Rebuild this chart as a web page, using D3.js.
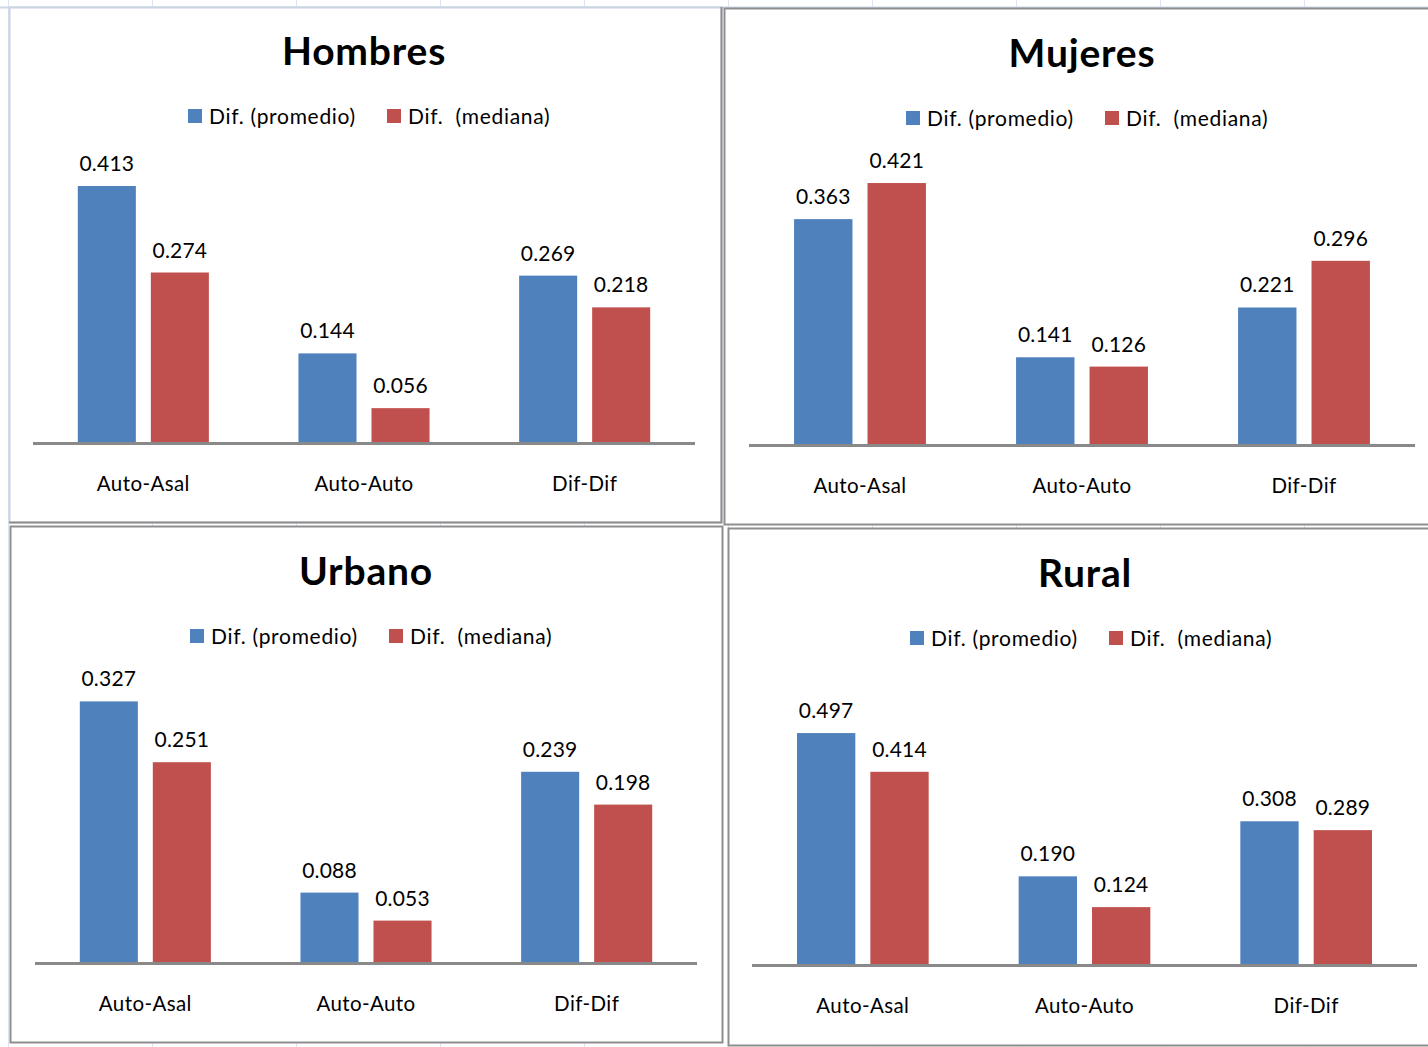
<!DOCTYPE html>
<html><head><meta charset="utf-8">
<script src="https://cdn.jsdelivr.net/npm/d3@7"></script>
<style>html,body{margin:0;padding:0;background:#fff;}svg{display:block;}</style>
</head><body>
<svg id="c" width="1428" height="1047"></svg>
<script>
const categories = ["Auto-Asal", "Auto-Auto", "Dif-Dif"];
const seriesNames = ["Dif. (promedio)", "Dif.\u00a0 (mediana)"];
const panelTitles = ["Hombres", "Mujeres", "Urbano", "Rural"];
const hombresPromedio = [0.413, 0.144, 0.269];
const hombresMediana  = [0.274, 0.056, 0.218];
const mujeresPromedio = [0.363, 0.141, 0.221];
const mujeresMediana  = [0.421, 0.126, 0.296];
const urbanoPromedio  = [0.327, 0.088, 0.239];
const urbanoMediana   = [0.251, 0.053, 0.198];
const ruralPromedio   = [0.497, 0.190, 0.308];
const ruralMediana    = [0.414, 0.124, 0.289];
const axisMax = [0.45, 0.45, 0.35, 0.6];

const colors = ["#4f81bd", "#c0504d"];
const FONT = "Lato, 'Noto Sans', sans-serif";

const layouts = [
  {fx:9, fy:7, fw:712, fh:515, l:33, r:695, base:443, tx:364, ty:65, lx:188, ly:124},
  {fx:724, fy:8, fw:712, fh:516, l:749, r:1415, base:445, tx:1082, ty:67, lx:906, ly:126},
  {fx:10, fy:526, fw:712, fh:516, l:35, r:697, base:963, tx:366, ty:585, lx:190, ly:644},
  {fx:728, fy:528, fw:706, fh:517, l:752, r:1417, base:965, tx:1085, ty:587, lx:910, ly:646}
];
const values = [
  [hombresPromedio, hombresMediana],
  [mujeresPromedio, mujeresMediana],
  [urbanoPromedio, urbanoMediana],
  [ruralPromedio, ruralMediana]
];

const svg = d3.select("#c");
const bg = svg.append("g");
for (let x = 8; x < 1428; x += 144) {
  bg.append("line").attr("x1", x + 0.5).attr("x2", x + 0.5).attr("y1", 0).attr("y2", 1047)
    .attr("stroke", "#dce4ee").attr("stroke-width", 1);
}
bg.append("line").attr("x1", 0).attr("x2", 1428).attr("y1", 7.5).attr("y2", 7.5)
  .attr("stroke", "#ccd7e5").attr("stroke-width", 2);

layouts.forEach((L, i) => {
  const g = svg.append("g");
  if (i === 0) {
    g.append("rect").attr("x", L.fx + 0.5).attr("y", L.fy + 0.5).attr("width", L.fw).attr("height", L.fh)
      .attr("fill", "#fff").attr("stroke", "#c9d4e3").attr("stroke-width", 2);
    g.append("path").attr("d", `M${L.fx + L.fw + 0.5},${L.fy}V${L.fy + L.fh + 0.5}H${L.fx}`)
      .attr("fill", "none").attr("stroke", "#8e8e8e").attr("stroke-width", 2);
  } else {
    g.append("rect").attr("x", L.fx + 0.5).attr("y", L.fy + 0.5).attr("width", L.fw).attr("height", L.fh)
      .attr("fill", "#fff").attr("stroke", "#8e8e8e").attr("stroke-width", 2);
  }

  const x0 = d3.scaleBand().domain(categories).range([L.l, L.r]).paddingInner(0.406).paddingOuter(0.203);
  const x1 = d3.scaleBand().domain([0, 1]).range([0, x0.bandwidth()]).paddingInner(0.205).paddingOuter(0);
  const y = d3.scaleLinear().domain([0, axisMax[i]]).range([L.base, L.base - 280]);

  g.append("text").attr("x", L.tx).attr("y", L.ty).attr("text-anchor", "middle")
    .attr("font-family", FONT).attr("font-weight", "bold").attr("font-size", 39)
    .attr("letter-spacing", 0.8).attr("fill", "#000").text(panelTitles[i]);

  seriesNames.forEach((s, k) => {
    const lx = L.lx + k * 199;
    g.append("rect").attr("x", lx).attr("y", L.ly - 15).attr("width", 14).attr("height", 14).attr("fill", colors[k]);
    g.append("text").attr("x", lx + 21).attr("y", L.ly).attr("font-family", FONT).attr("font-size", 21)
      .attr("letter-spacing", 0.7).attr("fill", "#000").text(s);
  });

  values[i].forEach((ser, k) => {
    g.selectAll(null).data(categories).enter().append("rect")
      .attr("x", c => x0(c) + x1(k))
      .attr("y", (c, j) => y(ser[j]))
      .attr("width", x1.bandwidth())
      .attr("height", (c, j) => L.base - y(ser[j]))
      .attr("fill", colors[k]);
    g.selectAll(null).data(categories).enter().append("text")
      .attr("x", c => x0(c) + x1(k) + x1.bandwidth() / 2)
      .attr("y", (c, j) => y(ser[j]) - 15)
      .attr("text-anchor", "middle").attr("font-family", FONT).attr("font-size", 21)
      .attr("letter-spacing", 0.2).attr("fill", "#000").text((c, j) => ser[j].toFixed(3));
  });

  const ax = g.append("g").attr("transform", `translate(0,${L.base})`)
    .call(d3.axisBottom(x0).tickSize(0).tickPadding(0));
  ax.select(".domain").attr("stroke", "#898989").attr("stroke-width", 3)
    .attr("d", `M${L.l},0.5H${L.r}`);
  ax.selectAll(".tick text").attr("dy", 0).attr("y", 48).attr("font-family", FONT)
    .attr("font-size", 20.5).attr("letter-spacing", 0.4).attr("fill", "#000");
});
</script>
</body></html>
